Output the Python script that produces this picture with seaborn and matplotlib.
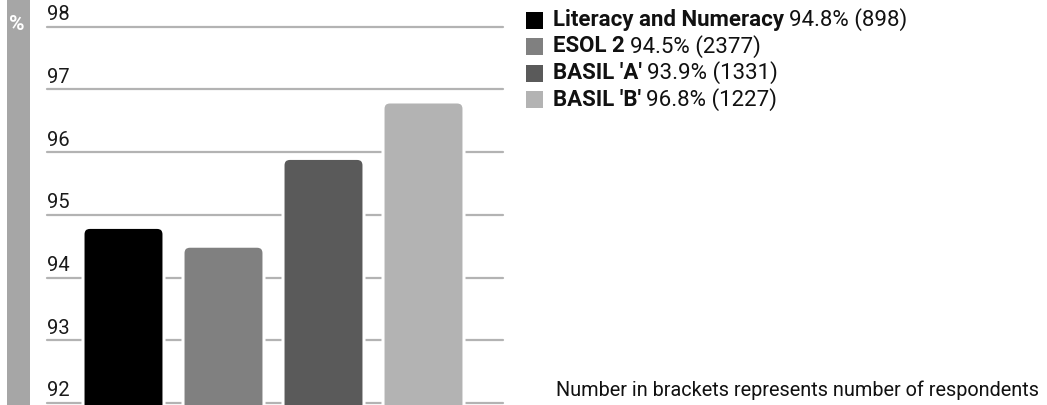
import matplotlib
matplotlib.use("Agg")
import matplotlib.pyplot as plt
import seaborn as sns
import pandas as pd
from matplotlib.patches import FancyBboxPatch, Rectangle

categories = ["Literacy and Numeracy", "ESOL 2", "BASIL 'A'", "BASIL 'B'"]
bar_values = [94.8, 94.5, 95.9, 96.8]
legend_values = ["94.8% (898)", "94.5% (2377)", "93.9% (1331)", "96.8% (1227)"]
colors = ["#000000", "#808080", "#5a5a5a", "#b3b3b3"]
yticks = [92, 93, 94, 95, 96, 97, 98]
footnote = "Number in brackets represents number of respondents"

sns.set_theme(style="white")
plt.rcParams["font.family"] = ["Roboto", "DejaVu Sans"]

W, H, DPI = 1047, 405, 100
fig = plt.figure(figsize=(W / DPI, H / DPI), dpi=DPI)
ax = fig.add_axes([47 / W, 2 / H, (503 - 47) / W, (403 - 26.7) / H])

df = pd.DataFrame({"cat": categories, "val": bar_values})
sns.barplot(data=df, x="cat", y="val", hue="cat", palette=colors, legend=False,
            width=0.81, ax=ax, zorder=3)
ax.set_xlim(-0.765, 3.795)
ax.set_ylim(92, 98)

# rounded bars replacing rectangles
rx = 0.07
ry = 0.11
for p in list(ax.patches):
    x0, y0 = p.get_x(), p.get_y()
    w, h = p.get_width(), p.get_height()
    fc = p.get_facecolor()
    p.set_visible(False)
    fb = FancyBboxPatch((x0, y0), w, h,
                        boxstyle=f"round,pad=0,rounding_size={rx}",
                        mutation_aspect=ry / rx,
                        facecolor=fc, edgecolor="white", linewidth=2.2,
                        zorder=3, clip_on=False)
    ax.add_patch(fb)

for t in yticks:
    ax.axhline(t, color="#b3b3b3", lw=1.6, zorder=1, clip_on=False)
    ax.text(-0.765, t + 0.04, str(t), ha="left", va="bottom", fontsize=14.5,
            color="#1a1a1a", zorder=4)

ax.set_xticks([])
ax.set_yticks([])
ax.set_xlabel("")
ax.set_ylabel("")
for s in ax.spines.values():
    s.set_visible(False)

# left gray band
fig.patches.append(Rectangle((7 / W, 0), 23 / W, 1, transform=fig.transFigure,
                             facecolor="#a6a6a6", edgecolor="none", zorder=0))
fig.text(16.5 / W, 1 - 24 / H, "%", color="white", fontsize=15, fontweight="bold",
         ha="center", va="center")

# legend
fig.canvas.draw()
renderer = fig.canvas.get_renderer()
row_y = [20, 46.5, 73, 99.5]
for cat, lv, c, y in zip(categories, legend_values, colors, row_y):
    fig.patches.append(Rectangle((526 / W, 1 - (y + 8.5) / H), 17 / W, 17 / H,
                                 transform=fig.transFigure, facecolor=c,
                                 edgecolor="none"))
    t1 = fig.text(553 / W, 1 - y / H, cat, fontsize=16, fontweight="bold",
                  color="#111111", ha="left", va="center")
    bb = t1.get_window_extent(renderer)
    fig.text((bb.x1 + 5) / W, 1 - y / H, lv, fontsize=16, color="#111111",
             ha="left", va="center")

fig.text(556 / W, 1 - 390 / H, footnote, fontsize=14.3, color="#111111",
         ha="left", va="center")

fig.savefig("out.png", dpi=DPI)
